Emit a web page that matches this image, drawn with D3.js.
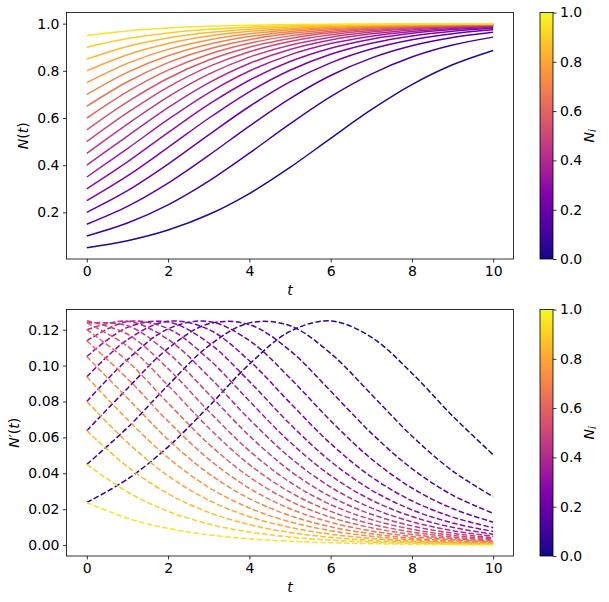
<!DOCTYPE html>
<html>
<head>
<meta charset="utf-8">
<script src="https://cdn.jsdelivr.net/npm/d3@7"></script>
<style>
  html, body { margin: 0; padding: 0; background: #fff; }
  svg { display: block; }
  text { font-family: "DejaVu Sans", sans-serif; fill: #000; }
</style>
</head>
<body>
<svg id="chart" width="609" height="602"></svg>
<script>
// ---------------- data ----------------
const tValues = [0, 1, 2, 3, 4, 5, 6, 7, 8, 9, 10];
const initialN = [0.05, 0.10, 0.15, 0.20, 0.25, 0.30, 0.35, 0.40, 0.45, 0.50,
                  0.55, 0.60, 0.65, 0.70, 0.75, 0.80, 0.85, 0.90, 0.95];

// N(t) for each initial value (rows follow initialN)
const populationCurves = [
  [0.0500,0.0799,0.1252,0.1909,0.2800,0.3907,0.5139,0.6354,0.7418,0.8257,0.8865],
  [0.1000,0.1548,0.2320,0.3324,0.4508,0.5751,0.6906,0.7863,0.8585,0.9091,0.9428],
  [0.1500,0.2254,0.3242,0.4416,0.5660,0.6825,0.7800,0.8539,0.9060,0.9408,0.9632],
  [0.2000,0.2919,0.4046,0.5284,0.6488,0.7528,0.8339,0.8922,0.9317,0.9575,0.9738],
  [0.2500,0.3547,0.4754,0.5990,0.7112,0.8024,0.8700,0.9169,0.9479,0.9678,0.9802],
  [0.3000,0.4140,0.5381,0.6576,0.7600,0.8393,0.8959,0.9342,0.9590,0.9747,0.9845],
  [0.3500,0.4703,0.5941,0.7070,0.7991,0.8677,0.9154,0.9469,0.9671,0.9798,0.9876],
  [0.4000,0.5236,0.6444,0.7492,0.8313,0.8904,0.9305,0.9567,0.9733,0.9836,0.9900],
  [0.4500,0.5743,0.6898,0.7857,0.8581,0.9088,0.9426,0.9644,0.9781,0.9866,0.9918],
  [0.5000,0.6225,0.7311,0.8176,0.8808,0.9241,0.9526,0.9707,0.9820,0.9890,0.9933],
  [0.5500,0.6683,0.7686,0.8456,0.9003,0.9371,0.9609,0.9759,0.9852,0.9910,0.9945],
  [0.6000,0.7121,0.8031,0.8705,0.9172,0.9481,0.9679,0.9803,0.9879,0.9926,0.9955],
  [0.6500,0.7538,0.8347,0.8927,0.9321,0.9577,0.9739,0.9840,0.9902,0.9941,0.9964],
  [0.7000,0.7937,0.8638,0.9127,0.9452,0.9660,0.9791,0.9872,0.9922,0.9953,0.9971],
  [0.7500,0.8318,0.8908,0.9308,0.9568,0.9734,0.9837,0.9900,0.9939,0.9963,0.9978],
  [0.8000,0.8683,0.9158,0.9472,0.9673,0.9799,0.9877,0.9925,0.9954,0.9972,0.9983],
  [0.8500,0.9033,0.9390,0.9621,0.9767,0.9857,0.9913,0.9947,0.9968,0.9980,0.9988],
  [0.9000,0.9369,0.9607,0.9758,0.9852,0.9910,0.9945,0.9967,0.9980,0.9988,0.9993],
  [0.9500,0.9691,0.9810,0.9884,0.9929,0.9957,0.9974,0.9984,0.9990,0.9994,0.9997]
];

// N'(t) for each initial value (rows follow initialN)
const growthCurves = [
  [0.02375,0.03674,0.05475,0.07722,0.10080,0.11903,0.12490,0.11583,0.09577,0.07196,0.05032],
  [0.04500,0.06543,0.08908,0.11096,0.12379,0.12218,0.10684,0.08402,0.06075,0.04132,0.02696],
  [0.06375,0.08729,0.10955,0.12330,0.12283,0.10834,0.08581,0.06238,0.04260,0.02786,0.01772],
  [0.08000,0.10334,0.12045,0.12460,0.11393,0.09304,0.06925,0.04808,0.03181,0.02037,0.01278],
  [0.09375,0.11444,0.12470,0.12010,0.10269,0.07927,0.05654,0.03808,0.02469,0.01561,0.00971],
  [0.10500,0.12130,0.12427,0.11258,0.09120,0.06745,0.04663,0.03075,0.01966,0.01232,0.00762],
  [0.11375,0.12456,0.12057,0.10357,0.08026,0.05739,0.03874,0.02514,0.01591,0.00990,0.00610],
  [0.12000,0.12472,0.11457,0.09394,0.07014,0.04880,0.03233,0.02073,0.01301,0.00807,0.00495],
  [0.12375,0.12224,0.10698,0.08418,0.06089,0.04143,0.02704,0.01717,0.01071,0.00661,0.00405],
  [0.12500,0.11750,0.09831,0.07458,0.05250,0.03505,0.02259,0.01423,0.00883,0.00543,0.00332],
  [0.12375,0.11083,0.08892,0.06527,0.04488,0.02948,0.01880,0.01176,0.00728,0.00446,0.00272],
  [0.12000,0.10251,0.07908,0.05636,0.03796,0.02459,0.01554,0.00967,0.00596,0.00365,0.00223],
  [0.11375,0.09279,0.06900,0.04788,0.03166,0.02027,0.01271,0.00787,0.00483,0.00295,0.00180],
  [0.10500,0.08187,0.05882,0.03983,0.02591,0.01641,0.01023,0.00630,0.00386,0.00236,0.00144],
  [0.09375,0.06995,0.04865,0.03222,0.02065,0.01296,0.00803,0.00494,0.00302,0.00184,0.00112],
  [0.08000,0.05716,0.03856,0.02502,0.01583,0.00985,0.00607,0.00372,0.00227,0.00138,0.00084],
  [0.06375,0.04367,0.02862,0.01823,0.01139,0.00703,0.00432,0.00264,0.00160,0.00098,0.00059],
  [0.04500,0.02958,0.01886,0.01180,0.00730,0.00448,0.00273,0.00167,0.00102,0.00061,0.00037],
  [0.02375,0.01499,0.00931,0.00573,0.00351,0.00214,0.00130,0.00079,0.00048,0.00029,0.00018]
];

const xTicks = [0, 2, 4, 6, 8, 10];
const topYTicks = [0.2, 0.4, 0.6, 0.8, 1.0];
const bottomYTicks = [0.00, 0.02, 0.04, 0.06, 0.08, 0.10, 0.12];
const colorbarTicks = [0.0, 0.2, 0.4, 0.6, 0.8, 1.0];

// ---------------- layout ----------------
const svg = d3.select("#chart");
const FONT = 14;
const plotLeft = 66.5, plotRight = 513.5;
const panels = [
  { top: 12.5, bottom: 259, curves: populationCurves, ticks: topYTicks, fmt: d3.format(".1f"), dashed: false, labelX: 24, label: "N(t)", prime: false },
  { top: 309.5, bottom: 556, curves: growthCurves, ticks: bottomYTicks, fmt: d3.format(".2f"), dashed: true, labelX: 15, label: "N'(t)", prime: true }
];
const cbLeft = 540, cbRight = 553;

// gradient for colorbar
const defs = svg.append("defs");
const grad = defs.append("linearGradient").attr("id", "plasmaGrad")
  .attr("x1", 0).attr("y1", 1).attr("x2", 0).attr("y2", 0);
d3.range(0, 1.0001, 0.02).forEach(s => {
  grad.append("stop").attr("offset", s).attr("stop-color", d3.interpolatePlasma(s));
});

function padded(ext) {
  const span = ext[1] - ext[0];
  return [ext[0] - 0.05 * span, ext[1] + 0.05 * span];
}

const xExtent = d3.extent(tValues);
const x = d3.scaleLinear().domain(padded(xExtent)).range([plotLeft, plotRight]);
const color = d3.scaleSequential(d3.interpolatePlasma).domain([0, 1]);

panels.forEach(p => {
  const all = p.curves.flat();
  const y = d3.scaleLinear().domain(padded(d3.extent(all))).range([p.bottom, p.top]);
  const g = svg.append("g");

  const line = d3.line()
    .x((d, i) => x(tValues[i]))
    .y(d => y(d))
    .curve(d3.curveCatmullRom.alpha(0.5));

  const clipId = "clip" + Math.round(p.top);
  defs.append("clipPath").attr("id", clipId).append("rect")
    .attr("x", plotLeft).attr("y", p.top).attr("width", plotRight - plotLeft).attr("height", p.bottom - p.top);

  g.append("g").attr("clip-path", `url(#${clipId})`)
    .selectAll("path").data(p.curves).join("path")
    .attr("d", line)
    .attr("fill", "none")
    .attr("stroke", (d, i) => color(initialN[i]))
    .attr("stroke-width", 1.5)
    .attr("stroke-dasharray", p.dashed ? "5.55,2.4" : null);

  // axes
  const xAxis = d3.axisBottom(x).tickValues(xTicks).tickSize(3.5).tickPadding(3.5).tickFormat(d3.format("d"));
  const gx = g.append("g").attr("transform", `translate(0,${p.bottom})`).call(xAxis);
  const yAxis = d3.axisLeft(y).tickValues(p.ticks).tickSize(3.5).tickPadding(3.5).tickFormat(p.fmt);
  const gy = g.append("g").attr("transform", `translate(${plotLeft},0)`).call(yAxis);
  [gx, gy].forEach(a => {
    a.select(".domain").remove();
    a.selectAll(".tick line").attr("stroke", "#000").attr("stroke-width", 0.8);
    a.selectAll(".tick text").attr("font-size", FONT).attr("font-family", "DejaVu Sans").attr("fill", "#000");
  });

  // frame
  g.append("rect").attr("x", plotLeft).attr("y", p.top)
    .attr("width", plotRight - plotLeft).attr("height", p.bottom - p.top)
    .attr("fill", "none").attr("stroke", "#000").attr("stroke-width", 0.8);

  // x label
  g.append("text").attr("x", (plotLeft + plotRight) / 2).attr("y", p.bottom + 36)
    .attr("text-anchor", "middle").attr("font-size", FONT)
    .append("tspan").attr("font-style", "italic").text("t");

  // y label
  const yl = g.append("text")
    .attr("transform", `translate(${p.labelX},${(p.top + p.bottom) / 2}) rotate(-90)`)
    .attr("text-anchor", "middle").attr("dominant-baseline", "middle").attr("font-size", FONT);
  yl.append("tspan").attr("font-style", "italic").text("N");
  if (p.prime) yl.append("tspan").text("\u2032");
  yl.append("tspan").text("(");
  yl.append("tspan").attr("font-style", "italic").text("t");
  yl.append("tspan").text(")");

  // colorbar
  const cb = svg.append("g");
  const cy = d3.scaleLinear().domain([0, 1]).range([p.bottom, p.top]);
  cb.append("rect").attr("x", cbLeft).attr("y", p.top).attr("width", cbRight - cbLeft)
    .attr("height", p.bottom - p.top).attr("fill", "url(#plasmaGrad)");
  cb.append("rect").attr("x", cbLeft).attr("y", p.top).attr("width", cbRight - cbLeft)
    .attr("height", p.bottom - p.top).attr("fill", "none").attr("stroke", "#000").attr("stroke-width", 0.8);
  const cAxis = d3.axisRight(cy).tickValues(colorbarTicks).tickSize(3.5).tickPadding(3.5).tickFormat(d3.format(".1f"));
  const gc = cb.append("g").attr("transform", `translate(${cbRight},0)`).call(cAxis);
  gc.select(".domain").remove();
  gc.selectAll(".tick line").attr("stroke", "#000").attr("stroke-width", 0.8);
  gc.selectAll(".tick text").attr("font-size", FONT).attr("font-family", "DejaVu Sans").attr("fill", "#000");

  const cl = cb.append("text")
    .attr("transform", `translate(590,${(p.top + p.bottom) / 2}) rotate(-90)`)
    .attr("text-anchor", "middle").attr("dominant-baseline", "middle").attr("font-size", FONT);
  cl.append("tspan").attr("font-style", "italic").text("N");
  cl.append("tspan").attr("font-style", "italic").attr("font-size", 10).attr("dy", 3).text("i");
});
</script>
</body>
</html>
